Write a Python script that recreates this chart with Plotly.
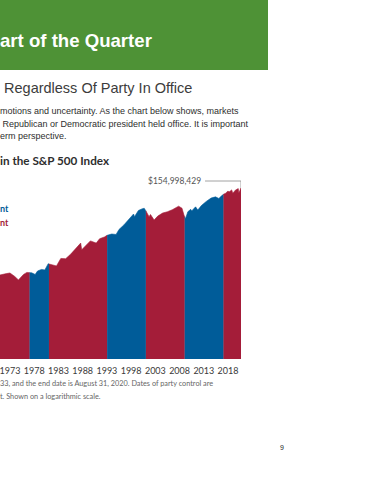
import math
import plotly.graph_objects as go

# ---------------- data ----------------
# Growth of the S&P 500 Index, split by party of the president in office
rep1_years = [1970.95, 1971.6, 1972.3, 1973.0, 1973.5, 1974.0, 1974.75, 1975.3, 1975.8, 1976.5, 1977.05]
rep1_vals = [1.41e6, 1.49e6, 1.52e6, 1.57e6, 1.45e6, 1.30e6, 1.08e6, 1.30e6, 1.45e6, 1.62e6, 1.60e6]

dem1_years = [1977.05, 1977.5, 1978.2, 1978.7, 1979.5, 1980.2, 1980.9, 1981.05]
dem1_vals = [1.60e6, 1.58e6, 1.45e6, 1.75e6, 1.90e6, 1.85e6, 2.60e6, 2.55e6]

rep2_years = [1981.05, 1981.5, 1982.6, 1983.5, 1984.5, 1985.5, 1986.5, 1987.6, 1987.8,
              1988.5, 1989.6, 1990.8, 1991.5, 1992.5, 1993.05]
rep2_vals = [2.55e6, 2.45e6, 2.30e6, 3.45e6, 3.40e6, 4.30e6, 5.60e6, 7.90e6, 5.50e6,
             6.60e6, 8.90e6, 7.90e6, 10.0e6, 11.0e6, 12.0e6]

dem2_years = [1993.05, 1994.0, 1994.9, 1995.5, 1996.5, 1997.5, 1998.5, 1998.7, 1999.5,
              2000.2, 2000.7, 2001.05]
dem2_vals = [12.0e6, 12.9e6, 12.6e6, 16.5e6, 21.0e6, 29.0e6, 38.0e6, 33.0e6, 46.0e6,
             50.0e6, 52.0e6, 45.0e6]

rep3_years = [2001.05, 2001.7, 2002.0, 2002.75, 2003.5, 2004.5, 2005.5, 2006.5, 2007.8,
              2008.5, 2008.9, 2009.05]
rep3_vals = [45.0e6, 33.0e6, 37.0e6, 27.5e6, 34.0e6, 40.0e6, 43.0e6, 48.0e6, 58.0e6,
             52.0e6, 36.0e6, 33.0e6]

dem3_years = [2009.05, 2009.2, 2009.7, 2010.3, 2010.5, 2011.3, 2011.75, 2012.5, 2013.5,
              2014.5, 2015.4, 2016.1, 2016.6, 2017.05]
dem3_vals = [33.0e6, 29.0e6, 43.0e6, 49.0e6, 45.0e6, 56.0e6, 47.0e6, 60.0e6, 75.0e6,
             90.0e6, 96.0e6, 88.0e6, 100.0e6, 110.0e6]

rep4_years = [2017.05, 2017.5, 2018.0, 2018.2, 2018.75, 2018.98, 2019.5, 2020.1, 2020.22,
              2020.5, 2020.67]
rep4_vals = [110.0e6, 117.0e6, 132.0e6, 125.0e6, 140.0e6, 117.0e6, 138.0e6, 150.0e6, 118.0e6,
             140.0e6, 154998429]

tick_years = [1973, 1978, 1983, 1988, 1993, 1998, 2003, 2008, 2013, 2018]
tick_labels = ["1973", "1978", "1983", "1988", "1993", "1998", "2003", "2008", "2013", "2018"]

end_label = "$154,998,429"

# ---------------- styling ----------------
RED = "#a41d39"
BLUE = "#005c99"
GREEN = "#4e9236"

W, H = 370, 480
L, PW = 0, 241          # plot area left / width (px)
T, PH = 170, 189        # plot area top / height (px)
B = T + PH

def px(x):
    return (x - L) / PW

def py(y):
    return (B - y) / PH

fig = go.Figure()

periods = [
    (rep1_years, rep1_vals, RED, "Republican President"),
    (dem1_years, dem1_vals, BLUE, "Democratic President"),
    (rep2_years, rep2_vals, RED, "Republican President"),
    (dem2_years, dem2_vals, BLUE, "Democratic President"),
    (rep3_years, rep3_vals, RED, "Republican President"),
    (dem3_years, dem3_vals, BLUE, "Democratic President"),
    (rep4_years, rep4_vals, RED, "Republican President"),
]

FLOOR = 1.0  # well below the axis range, so the fill reaches the bottom
for xs, ys, col, name in periods:
    fig.add_trace(go.Scatter(
        x=list(xs) + [xs[-1], xs[0]],
        y=list(ys) + [FLOOR, FLOOR],
        mode="lines",
        fill="toself",
        fillcolor=col,
        line=dict(color=col, width=0.6),
        name=name,
        showlegend=False,
        hoverinfo="skip",
    ))

# leader line for the end value
last_x = rep4_years[-1]
last_y = rep4_vals[-1]
label_y = last_y * 1.46
label_x = 2012.9
fig.add_trace(go.Scatter(
    x=[label_x + 0.35, last_x, last_x],
    y=[label_y, label_y, last_y],
    mode="lines",
    line=dict(color="#8a8a8a", width=0.8),
    showlegend=False,
    hoverinfo="skip",
    cliponaxis=False,
))


def note(xp, yp, text, size, color, family="Liberation Sans", xanchor="left"):
    return dict(x=px(xp), y=py(yp), xref="paper", yref="paper", text=text,
                showarrow=False, xanchor=xanchor, yanchor="middle",
                font=dict(family=family, size=size, color=color))


annotations = [
    dict(x=label_x, y=math.log10(label_y), xref="x", yref="y", text=end_label, showarrow=False,
         xanchor="right", yanchor="middle",
         font=dict(family="Lato", size=8.5, color="#555555")),
    note(-2, 40, "<b>art of the Quarter</b>", 18.6, "white"),
    note(-2, 88, " Regardless Of Party In Office", 14.5, "#3c3c3c"),
    note(-2, 111, "motions and uncertainty. As the chart below shows, markets", 9, "#2e2e2e"),
    note(-2, 124, " Republican or Democratic president held office. It is important", 9, "#2e2e2e"),
    note(-2, 136, "erm perspective.", 9, "#2e2e2e"),
    note(-2, 160, "<b>in the S&P 500 Index</b>", 11.7, "#2e2e2e", family="Lato"),
    note(-2, 208, "<b>nt</b>", 9, BLUE, family="Lato"),
    note(-2, 222, "<b>nt</b>", 9, RED, family="Lato"),
    note(-2, 383, "33, and the end date is August 31, 2020. Dates of party control are", 7.3,
         "#666666", family="Lato"),
    note(-2, 396, "t. Shown on a logarithmic scale.", 7.3, "#666666", family="Lato"),
    note(282, 447, "9", 7, "#222222", xanchor="center"),
]

shapes = [
    dict(type="rect", xref="paper", yref="paper",
         x0=px(-5), x1=px(268), y0=py(70), y1=py(-5),
         fillcolor=GREEN, line=dict(width=0), layer="below"),
]

fig.update_layout(
    width=W, height=H,
    margin=dict(l=L, r=W - L - PW, t=T, b=H - B, autoexpand=False),
    paper_bgcolor="white",
    plot_bgcolor="white",
    showlegend=False,
    hovermode=False,
    annotations=annotations,
    shapes=shapes,
    xaxis=dict(
        range=[1970.95, 2020.67],
        tickvals=tick_years,
        ticktext=tick_labels,
        tickangle=0,
        ticklabeloverflow="allow",
        ticklabelstandoff=5,
        showgrid=False, zeroline=False, showline=False,
        ticks="", ticklen=0,
        tickfont=dict(family="Lato", size=9, color="#3a3a3a"),
        fixedrange=True,
    ),
    yaxis=dict(
        type="log",
        range=[4.177, 8.613],
        visible=False,
        fixedrange=True,
    ),
)

fig.write_html(
    "out.html",
    config={"displayModeBar": False, "staticPlot": True},
    post_script="document.body.style.margin='0';document.body.style.padding='0';",
)
